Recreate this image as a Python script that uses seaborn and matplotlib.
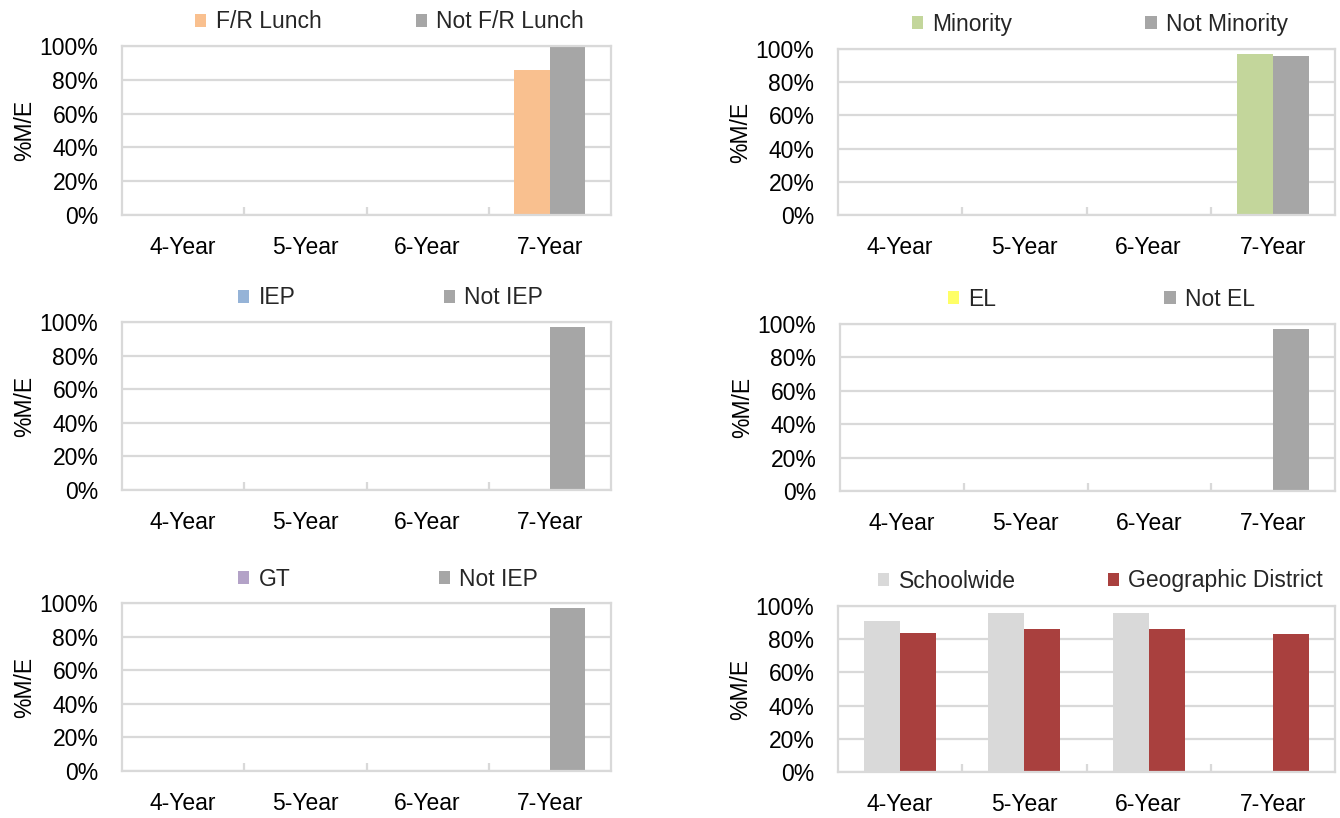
import numpy as np
import pandas as pd
import matplotlib
matplotlib.use("Agg")
import matplotlib.pyplot as plt
from matplotlib import font_manager
from matplotlib.patches import Patch
from matplotlib.ticker import FuncFormatter, FixedLocator
import seaborn as sns

# ---- data (percent meeting/exceeding) ----
nan = np.nan
years = ["4-Year", "5-Year", "6-Year", "7-Year"]
yticks = [0, 20, 40, 60, 80, 100]

frl = [nan, nan, nan, 86]
not_frl = [nan, nan, nan, 100]
minority = [nan, nan, nan, 97]
not_minority = [nan, nan, nan, 96]
iep = [nan, nan, nan, nan]
not_iep = [nan, nan, nan, 97]
el = [nan, nan, nan, nan]
not_el = [nan, nan, nan, 97]
gt = [nan, nan, nan, nan]
not_gt = [nan, nan, nan, 97]
schoolwide = [91, 96, 96, nan]
district = [84, 86, 86, 83]

GRAY = "#A6A6A6"
GRID = "#D9D9D9"

# (series name, values, colour) pairs per panel
panels = [
    [("F/R Lunch", frl, "#F9C08F"), ("Not F/R Lunch", not_frl, GRAY)],
    [("Minority", minority, "#C3D69B"), ("Not Minority", not_minority, GRAY)],
    [("IEP", iep, "#95B3D7"), ("Not IEP", not_iep, GRAY)],
    [("EL", el, "#FFFF66"), ("Not EL", not_el, GRAY)],
    [("GT", gt, "#B3A2C7"), ("Not IEP ", not_gt, GRAY)],
    [("Schoolwide", schoolwide, "#D9D9D9"), ("Geographic District", district, "#A9403E")],
]

# pixel layout: axes (left, top, right, bottom), legend (x0, x1, y)
W, H = 1340, 818
axes_px = [
    (122, 46, 611, 215), (838, 49, 1335, 215),
    (122, 322, 611, 490), (840, 324, 1335, 491),
    (122, 603, 611, 771), (838, 606, 1335, 772),
]
legend_px = [
    (195, 584, 22), (912, 1288, 24),
    (238, 543, 298), (948, 1255, 299),
    (238, 538, 579), (878, 1323, 581),
]

sns.set_theme(style="white")
names = {f.name for f in font_manager.fontManager.ttflist}
if "Liberation Sans Narrow" in names:
    family, fs = "Liberation Sans Narrow", 19
else:
    family, fs = "Liberation Sans", 16.5
plt.rcParams["font.family"] = [family, "DejaVu Sans"]

fig = plt.figure(figsize=(W / 100, H / 100), dpi=100)

for series, (l, t, r, b), (lx0, lx1, ly) in zip(panels, axes_px, legend_px):
    ax = fig.add_axes([l / W, 1 - b / H, (r - l) / W, (b - t) / H])
    rows = []
    for name, vals, _ in series:
        for yr, v in zip(years, vals):
            rows.append({"year": yr, "group": name, "pct": v})
    df = pd.DataFrame(rows)
    hue_order = [s[0] for s in series]
    pal = {s[0]: s[2] for s in series}
    sns.barplot(data=df, x="year", y="pct", hue="group", order=years,
                hue_order=hue_order, palette=pal, width=0.58, saturation=1,
                linewidth=0, legend=False, ax=ax, errorbar=None)

    ax.set_ylim(0, 100)
    ax.set_xlim(-0.5, 3.5)
    ax.set_yticks(yticks)
    ax.yaxis.set_major_formatter(FuncFormatter(lambda v, p: f"{v:.0f}%"))
    ax.grid(axis="y", color=GRID, linewidth=1.6)
    ax.set_axisbelow(True)
    for sp in ax.spines.values():
        sp.set_visible(True)
        sp.set_color(GRID)
        sp.set_linewidth(1.6)
    ax.tick_params(axis="x", length=0, pad=15, labelsize=fs, colors="black")
    ax.tick_params(axis="y", length=0, pad=17, labelsize=fs, colors="black")
    ax.xaxis.set_minor_locator(FixedLocator([0.5, 1.5, 2.5]))
    ax.tick_params(axis="x", which="minor", direction="in", length=6,
                   width=1.6, color=GRID, bottom=True)
    ax.set_xlabel("")
    ax.set_ylabel("%M/E", fontsize=fs, color="black")
    ax.yaxis.set_label_coords(-86 / (r - l), 0.5)

    handles = [Patch(facecolor=c, edgecolor="none", label=n.strip()) for n, _, c in series]
    fig.legend(handles=handles, loc="center left", ncol=2, mode="expand",
               bbox_to_anchor=(lx0 / W, 1 - ly / H, (lx1 - lx0) / W, 0),
               frameon=False, fontsize=fs, handlelength=0.5, handleheight=0.5,
               handletextpad=0.4, borderpad=0, borderaxespad=0)

fig.savefig("out.png", dpi=100, facecolor="white")
